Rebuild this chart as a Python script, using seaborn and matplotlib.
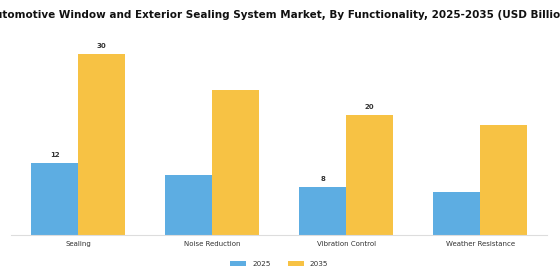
import numpy as np
import pandas as pd
import matplotlib
matplotlib.use('Agg')
import matplotlib.pyplot as plt
import seaborn as sns

# Market size by functionality (USD Billion)
categories = ['Sealing', 'Noise Reduction', 'Vibration Control', 'Weather Resistance']
years = ['2025', '2035']
values_2025 = [12, 10, 8, 7.2]
values_2035 = [30, 24, 20, 18.3]
# only some bars carry a value label in the original
labelled = {('Sealing', '2025'): '12', ('Sealing', '2035'): '30',
            ('Vibration Control', '2025'): '8', ('Vibration Control', '2035'): '20'}

df = pd.DataFrame({
    'Functionality': categories * 2,
    'Year': ['2025'] * len(categories) + ['2035'] * len(categories),
    'Value': values_2025 + values_2035,
})

sns.set_style('white')
plt.rcParams['font.family'] = ['DejaVu Sans']

fig = plt.figure(figsize=(5.6, 2.8), dpi=100)
ax = fig.add_axes([0.02, 0.1607, 0.957, 0.71])

sns.barplot(data=df, x='Functionality', y='Value', hue='Year', hue_order=years,
            palette=['#5DADE2', '#F7C244'], width=0.7, saturation=1,
            linewidth=0, ax=ax, legend=True)

# value labels
for cont, yr in zip(ax.containers, years):
    for bar, cat in zip(cont, categories):
        txt = labelled.get((cat, yr))
        if txt:
            ax.text(bar.get_x() + bar.get_width() / 2, bar.get_height() + 0.8, txt,
                    ha='center', va='bottom', fontsize=5, fontweight='bold', color='#333333')

ax.set_ylim(0, 33)
ax.set_xlim(-0.5, 3.5)
ax.set_xlabel('')
ax.set_ylabel('')
ax.set_yticks([])
for s in ['top', 'right', 'left']:
    ax.spines[s].set_visible(False)
ax.spines['bottom'].set_color('#dddddd')
ax.spines['bottom'].set_linewidth(0.8)
ax.tick_params(axis='x', labelsize=5, colors='#333333', length=2, width=0.5, pad=2)

leg = ax.legend(loc='upper center', bbox_to_anchor=(0.5, -0.1), ncol=2, frameon=False,
                fontsize=5.2, handlelength=2.2, handleheight=0.7, columnspacing=2.4)
for t in leg.get_texts():
    t.set_color('#333333')

fig.suptitle('Automotive Window and Exterior Sealing System Market, By Functionality, 2025-2035 (USD Billion)',
             fontsize=7.5, fontweight='bold', y=0.965, color='#111111')

fig.savefig('out.png', dpi=100)
